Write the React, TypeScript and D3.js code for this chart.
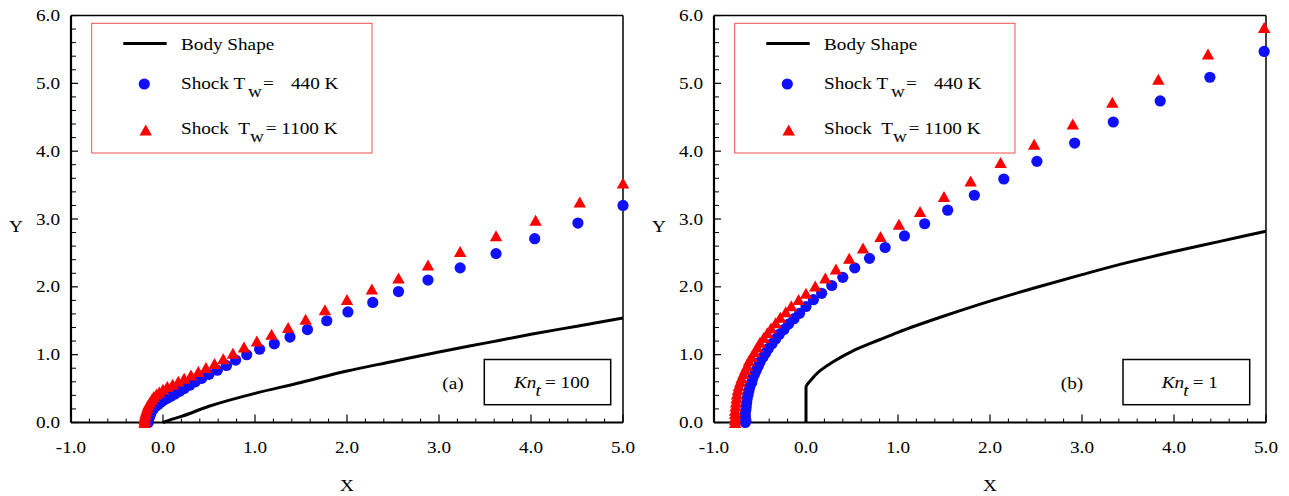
import React from "react";
import * as d3 from "d3";

// ---------- data ----------
const xTickValues = [-1, 0, 1, 2, 3, 4, 5];
const yTickValues = [0, 1, 2, 3, 4, 5, 6];
const seriesLabels = ["Body Shape", "Shock T", "Shock  T"];
const panelTags = ["(a)", "(b)"];
const knValues = ["100", "1"];

// panel (a) Kn_t = 100
const bodyA: [number, number][] = [
  [0, 0], [0.1, 0.05], [0.2, 0.09], [0.5, 0.24], [1.0, 0.43], [1.5, 0.59], [2.0, 0.76],
  [2.5, 0.9], [3.0, 1.04], [3.5, 1.17], [4.0, 1.3], [4.5, 1.42], [5.0, 1.54],
];
const shock440A: [number, number][] = [
  [5.0, 3.2], [4.51, 2.94], [4.04, 2.71], [3.62, 2.49], [3.23, 2.28], [2.88, 2.1], [2.56, 1.93],
  [2.28, 1.77], [2.01, 1.63], [1.78, 1.5], [1.57, 1.37], [1.38, 1.26], [1.21, 1.16], [1.05, 1.08],
  [0.91, 1.0], [0.79, 0.92], [0.69, 0.84], [0.59, 0.77], [0.5, 0.71], [0.42, 0.65], [0.35, 0.6],
  [0.29, 0.55], [0.23, 0.5], [0.18, 0.46], [0.13, 0.42], [0.09, 0.39], [0.05, 0.36], [0.01, 0.33],
  [-0.02, 0.3], [-0.05, 0.27], [-0.08, 0.24], [-0.1, 0.21], [-0.12, 0.17], [-0.135, 0.13],
  [-0.145, 0.09], [-0.155, 0.05], [-0.16, 0.02], [-0.16, 0.0],
];
const shock1100A: [number, number][] = [
  [5.0, 3.53], [4.53, 3.25], [4.05, 2.98], [3.62, 2.75], [3.23, 2.52], [2.88, 2.32], [2.56, 2.13],
  [2.27, 1.965], [2.0, 1.81], [1.76, 1.66], [1.55, 1.52], [1.36, 1.4], [1.18, 1.3], [1.02, 1.2],
  [0.88, 1.11], [0.76, 1.02], [0.655, 0.94], [0.56, 0.87], [0.467, 0.81], [0.384, 0.75],
  [0.304, 0.7], [0.23, 0.652], [0.166, 0.608], [0.105, 0.563], [0.047, 0.528], [0.0, 0.49],
  [-0.04, 0.45], [-0.07, 0.42], [-0.1, 0.38], [-0.12, 0.34], [-0.14, 0.3], [-0.16, 0.26],
  [-0.17, 0.22], [-0.18, 0.18], [-0.19, 0.14], [-0.195, 0.1], [-0.2, 0.06], [-0.2, 0.03], [-0.2, 0.0],
];

// panel (b) Kn_t = 1
const bodyB: [number, number][] = [
  [0, 0], [0, 0.52], [0.05, 0.62], [0.15, 0.76], [0.3, 0.9], [0.5, 1.05], [0.8, 1.22], [1.0, 1.33],
  [1.5, 1.57], [2.0, 1.79], [2.5, 1.99], [3.0, 2.18], [3.5, 2.36], [4.0, 2.52], [4.5, 2.67], [5.0, 2.82],
];
const shock440B: [number, number][] = [
  [4.98, 5.47], [4.39, 5.09], [3.85, 4.74], [3.34, 4.43], [2.92, 4.12], [2.51, 3.85], [2.15, 3.59],
  [1.83, 3.35], [1.54, 3.13], [1.29, 2.93], [1.07, 2.75], [0.86, 2.58], [0.69, 2.42], [0.53, 2.28],
  [0.4, 2.14], [0.28, 2.02], [0.17, 1.905], [0.08, 1.81], [0.0, 1.71], [-0.07, 1.61], [-0.13, 1.53],
  [-0.19, 1.45], [-0.24, 1.37], [-0.29, 1.3], [-0.33, 1.23], [-0.37, 1.16], [-0.41, 1.09],
  [-0.44, 1.02], [-0.47, 0.96], [-0.5, 0.89], [-0.52, 0.83], [-0.54, 0.77], [-0.56, 0.71],
  [-0.58, 0.65], [-0.59, 0.59], [-0.61, 0.53], [-0.62, 0.47], [-0.63, 0.41], [-0.64, 0.35],
  [-0.645, 0.29], [-0.65, 0.23], [-0.655, 0.18], [-0.66, 0.13], [-0.66, 0.08], [-0.66, 0.04], [-0.66, 0.0],
];
const shock1100B: [number, number][] = [
  [4.98, 5.82], [4.37, 5.43], [3.83, 5.06], [3.33, 4.72], [2.9, 4.4], [2.48, 4.1], [2.115, 3.83],
  [1.79, 3.56], [1.5, 3.33], [1.24, 3.11], [1.01, 2.92], [0.81, 2.74], [0.62, 2.57], [0.47, 2.42],
  [0.325, 2.26], [0.21, 2.13], [0.1, 2.01], [0.0, 1.905], [-0.08, 1.81], [-0.16, 1.72], [-0.22, 1.63],
  [-0.28, 1.55], [-0.33, 1.47], [-0.38, 1.39], [-0.42, 1.32], [-0.46, 1.25], [-0.5, 1.18],
  [-0.53, 1.11], [-0.56, 1.04], [-0.59, 0.97], [-0.62, 0.91], [-0.64, 0.84], [-0.66, 0.78],
  [-0.68, 0.72], [-0.7, 0.66], [-0.715, 0.6], [-0.73, 0.54], [-0.74, 0.48], [-0.75, 0.42],
  [-0.755, 0.36], [-0.76, 0.3], [-0.765, 0.24], [-0.77, 0.18], [-0.77, 0.13], [-0.77, 0.08],
  [-0.77, 0.04], [-0.77, 0.0],
];

// ---------- styles ----------
const FONT = "'Liberation Serif', 'Times New Roman', serif";
const FS = 16;
const SX = 1.2;
const BLUE = "#1010ff";
const RED = "#ff0000";

type TProps = {
  x: number; y: number; children: React.ReactNode; anchor?: "start" | "middle" | "end";
  italic?: boolean; size?: number;
};
const T = ({ x, y, children, anchor = "start", italic = false, size = FS }: TProps) => (
  <text
    transform={`translate(${x},${y}) scale(${SX},1)`}
    textAnchor={anchor}
    fontFamily={FONT}
    fontSize={size}
    fontStyle={italic ? "italic" : "normal"}
    fill="#000"
    style={{ whiteSpace: "pre" }}
  >
    {children}
  </text>
);

const triPath = "M0,-5.6L6.2,5.4L-6.2,5.4Z";
const fmt = (v: number) => d3.format(".1f")(v).replace("\u2212", "-");

type PanelProps = {
  left: number; right: number; top: number; bottom: number;
  body: [number, number][]; s440: [number, number][]; s1100: [number, number][];
  tag: string; kn: string; boxX: number; boxW: number; tagX: number; knX: number;
};

const Panel = ({ left, right, top, bottom, body, s440, s1100, tag, kn, boxX, boxW, tagX, knX }: PanelProps) => {
  const x = d3.scaleLinear().domain([-1, 5]).range([left, right]);
  const y = d3.scaleLinear().domain([0, 6]).range([bottom, top]);
  const line = d3.line<[number, number]>()
    .x((d) => x(d[0]))
    .y((d) => y(d[1]))
    .curve(d3.curveMonotoneY);
  const minorX = d3.range(-1, 5.0001, 0.2).filter((v) => Math.abs(v - Math.round(v)) > 1e-6);
  const minorY = d3.range(0, 6.0001, 0.2).filter((v) => Math.abs(v - Math.round(v)) > 1e-6);
  const lx = left + 20.7;
  return (
    <g>
      {/* frame */}
      <line x1={left} x2={right} y1={top} y2={top} stroke="#000" strokeWidth={1.3} />
      <line x1={right} x2={right} y1={top} y2={bottom} stroke="#000" strokeWidth={1.5} />
      <line x1={left} x2={left} y1={top} y2={bottom} stroke="#000" strokeWidth={2.2} />
      <line x1={left} x2={right} y1={bottom} y2={bottom} stroke="#000" strokeWidth={2.2} />
      {/* ticks */}
      {minorY.map((v) => (
        <line key={"my" + v} x1={left} x2={left + 5} y1={y(v)} y2={y(v)} stroke="#000" strokeWidth={1} />
      ))}
      {yTickValues.map((v) => (
        <line key={"Y" + v} x1={left} x2={left + 7} y1={y(v)} y2={y(v)} stroke="#000" strokeWidth={1.2} />
      ))}
      {minorX.map((v) => (
        <line key={"mx" + v} x1={x(v)} x2={x(v)} y1={bottom} y2={bottom - 4} stroke="#000" strokeWidth={1} />
      ))}
      {xTickValues.map((v) => (
        <line key={"X" + v} x1={x(v)} x2={x(v)} y1={bottom} y2={bottom - 8} stroke="#000" strokeWidth={1.2} />
      ))}
      {yTickValues.map((v) => (
        <T key={"yl" + v} x={left - 11} y={y(v) + 5.5} anchor="end">{fmt(v)}</T>
      ))}
      {xTickValues.map((v) => (
        <T key={"xl" + v} x={x(v)} y={bottom + 30} anchor="middle">{fmt(v)}</T>
      ))}
      <T x={left - 55} y={232} anchor="middle">Y</T>
      <T x={(left + right) / 2} y={491} anchor="middle">X</T>

      {/* data */}
      <path d={line(body) || ""} fill="none" stroke="#000" strokeWidth={3} />
      {s440.map((d, i) => (
        <circle key={"c" + i} cx={x(d[0])} cy={y(d[1])} r={5.6} fill={BLUE} />
      ))}
      {s1100.map((d, i) => (
        <path key={"t" + i} d={triPath} transform={`translate(${x(d[0])},${y(d[1])})`} fill={RED} />
      ))}

      {/* legend */}
      <rect x={lx} y={23.3} width={280.3} height={129.7} fill="none" stroke="#f05050" strokeWidth={1} />
      <line x1={lx + 31.6} x2={lx + 75} y1={43.5} y2={43.5} stroke="#000" strokeWidth={3} />
      <T x={lx + 89.3} y={50}>{seriesLabels[0]}</T>
      <circle cx={lx + 52.6} cy={84} r={5.6} fill={BLUE} />
      <T x={lx + 89.3} y={88.7}>{seriesLabels[1]}</T>
      <T x={lx + 156.3} y={96.7}>w</T>
      <T x={lx + 171.3} y={88.7}>=</T>
      <T x={lx + 199.3} y={88.7}>440 K</T>
      <path d={triPath} transform={`translate(${lx + 54},${130})`} fill={RED} />
      <T x={lx + 89.3} y={134.3}>{seriesLabels[2]}</T>
      <T x={lx + 158.3} y={142}>w</T>
      <T x={lx + 174} y={134.3}>= 1100 K</T>

      {/* annotation */}
      <T x={tagX} y={389} anchor="middle">{tag}</T>
      <rect x={boxX} y={359.5} width={boxW} height={45.2} fill="none" stroke="#000" strokeWidth={1.5} />
      <T x={knX} y={388.3} italic>Kn</T>
      <T x={knX + 21.5} y={396} italic>t</T>
      <T x={knX + 31} y={388.3}>{"= " + kn}</T>
    </g>
  );
};

export default function App() {
  return (
    <svg
      width={1289}
      height={496}
      style={{ position: "absolute", left: 0, top: 0, background: "#fff" }}
    >
      <rect x={0} y={0} width={1289} height={496} fill="#fff" />
      <Panel
        left={71} right={623} top={15.5} bottom={422.5}
        body={bodyA} s440={shock440A} s1100={shock1100A}
        tag={panelTags[0]} kn={knValues[0]}
        boxX={484.3} boxW={126.4} tagX={453} knX={514}
      />
      <Panel
        left={714} right={1266} top={15.5} bottom={422.5}
        body={bodyB} s440={shock440B} s1100={shock1100B}
        tag={panelTags[1]} kn={knValues[1]}
        boxX={1123} boxW={126.7} tagX={1072} knX={1161.7}
      />
    </svg>
  );
}
